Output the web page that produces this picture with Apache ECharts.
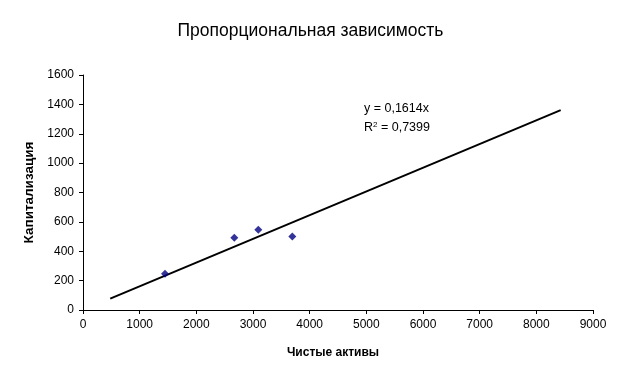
<!DOCTYPE html>
<html><head><meta charset="utf-8">
<script src="https://cdn.jsdelivr.net/npm/echarts@6/dist/echarts.min.js"></script>
<style>html,body{margin:0;padding:0;background:#fff}#c{width:621px;height:381px}</style>
</head><body><div id="c"></div>
<script>
var title = 'Пропорциональная зависимость';
var xName = 'Чистые активы';
var yName = 'Капитализация';
var assets = [1447, 2670, 3094, 3694];
var capitalization = [246, 492, 546, 500];
var trendX = [480, 8430];
var trendY = [77, 1361];
var eqLine1 = 'y = 0,1614x';
var eqLine2a = 'R', eqSup = '2', eqLine2b = ' = 0,7399';

var font = '"Liberation Sans", Arial, sans-serif';
var chart = echarts.init(document.getElementById('c'), null, {renderer: 'canvas'});
var pts = assets.map(function (x, i) { return [x, capitalization[i]]; });
var trend = trendX.map(function (x, i) { return [x, trendY[i]]; });
function plain(v) { return String(v); }
chart.setOption({
  animation: false,
  backgroundColor: '#fff',
  title: {text: title, left: 'center', top: 17, textStyle: {fontFamily: font, fontSize: 17.5, fontWeight: 'normal', color: '#000'}},
  grid: {left: 83, top: 75, width: 510, height: 235},
  xAxis: {
    type: 'value', min: 0, max: 9000, interval: 1000,
    name: xName, nameLocation: 'middle', nameGap: 37,
    nameTextStyle: {fontFamily: font, fontSize: 12, fontWeight: 'bold', color: '#000', padding: [0, 10, 0, 0]},
    axisLine: {lineStyle: {color: '#000', width: 1}},
    axisTick: {length: 4, lineStyle: {color: '#000'}},
    axisLabel: {fontFamily: font, fontSize: 12, color: '#000', margin: 9, formatter: plain},
    splitLine: {show: false}
  },
  yAxis: {
    type: 'value', min: 0, max: 1600, interval: 200,
    name: yName, nameLocation: 'middle', nameGap: 44, nameRotate: 90,
    nameTextStyle: {fontFamily: font, fontSize: 13.5, fontWeight: 'bold', color: '#000'},
    axisLine: {show: true, lineStyle: {color: '#000', width: 1}},
    axisTick: {show: true, length: 4, lineStyle: {color: '#000'}},
    axisLabel: {fontFamily: font, fontSize: 12, color: '#000', margin: 9, formatter: plain},
    splitLine: {show: false}
  },
  series: [
    {type: 'line', data: trend, symbol: 'none', lineStyle: {color: '#000', width: 2}, z: 2},
    {type: 'scatter', data: pts, symbol: 'diamond', symbolSize: 8, itemStyle: {color: '#000080'}, z: 3}
  ],
  graphic: [
    {type: 'text', left: 364, top: 102, style: {text: eqLine1, fontFamily: font, fontSize: 12.5, fill: '#000'}},
    {type: 'text', left: 364, top: 121, style: {
      text: '{n|' + eqLine2a + '}{s|' + eqSup + '}{n|' + eqLine2b + '}',
      rich: {n: {fontFamily: font, fontSize: 12.5, color: '#000'},
             s: {fontFamily: font, fontSize: 8, color: '#000', verticalAlign: 'top', padding: [0, 0, 6, 0]}}
    }}
  ]
});
</script></body></html>
